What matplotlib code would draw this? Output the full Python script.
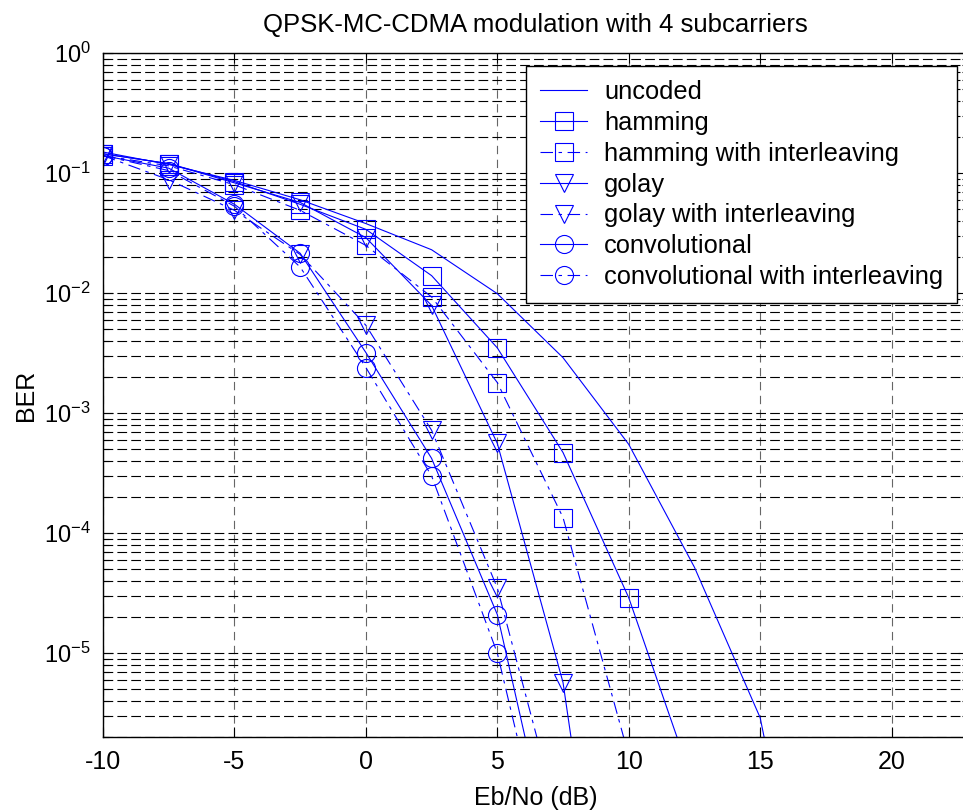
import numpy as np
import matplotlib.pyplot as plt
from matplotlib.ticker import LogLocator, NullFormatter

# Arial-like font, as in the MATLAB figure
plt.rcParams['font.family'] = ['Liberation Sans', 'DejaVu Sans']
plt.rcParams['lines.scale_dashes'] = False
plt.rcParams['axes.unicode_minus'] = False
plt.rcParams['mathtext.fontset'] = 'custom'
plt.rcParams['mathtext.rm'] = 'Liberation Sans'

# Eb/No points (dB)
ebno = [-10, -7.5, -5, -2.5, 0, 2.5, 5, 7.5, 10, 12.5, 15, 17.5]

# BER curves
uncoded = [0.15, 0.118, 0.087, 0.06, 0.038, 0.023, 0.0099, 2.9e-3, 5.5e-4, 5.2e-5, 2.9e-6, 6e-9]
hamming = [0.145, 0.12, 0.085, 0.055, 0.034, 0.014, 3.5e-3, 4.7e-4, 2.9e-5, 7.6e-7]
hamming_int = [0.14, 0.115, 0.08, 0.049, 0.025, 0.0093, 1.8e-3, 1.35e-4, 1.4e-6]
golay = [0.145, 0.12, 0.083, 0.057, 0.029, 0.0079, 5.6e-4, 5.7e-6, 1e-9]
golay_int = [0.14, 0.088, 0.049, 0.021, 0.0054, 7.2e-4, 3.5e-5, 3e-7]
conv = [0.14, 0.11, 0.055, 0.0215, 0.0032, 4.2e-4, 2.1e-5, 8e-8]
conv_int = [0.14, 0.105, 0.053, 0.0165, 0.0024, 3.0e-4, 1.0e-5, 5e-8]

labels = ['uncoded', 'hamming', 'hamming with interleaving', 'golay',
          'golay with interleaving', 'convolutional',
          'convolutional with interleaving']

blue = '#0000ff'
solid = '-'
dashdot = (0, (9, 4, 2.5, 4))

fig = plt.figure(figsize=(9.63, 8.10), dpi=100)
ax = fig.add_axes([0.107, 0.090, 0.898, 0.8444])

series = [
    (uncoded, solid, 'None'),
    (hamming, solid, 's'),
    (hamming_int, dashdot, 's'),
    (golay, solid, 'v'),
    (golay_int, dashdot, 'v'),
    (conv, solid, 'o'),
    (conv_int, dashdot, 'o'),
]
for (vals, ls, mk), lab in zip(series, labels):
    ax.semilogy(ebno[:len(vals)], vals, color=blue, lw=0.8, linestyle=ls,
                marker=mk, markersize=13, markerfacecolor='none',
                markeredgecolor=blue, markeredgewidth=0.8, label=lab)

ax.set_xlim(-10, 22.9)
ax.set_ylim(2e-6, 1)
ax.set_xticks([-10, -5, 0, 5, 10, 15, 20])
ax.yaxis.set_major_locator(LogLocator(base=10, numticks=10))
ax.yaxis.set_minor_locator(LogLocator(base=10, subs=np.arange(2, 10), numticks=20))
ax.yaxis.set_minor_formatter(NullFormatter())

ax.grid(True, which='major', axis='x', linestyle=(0, (6, 4)), color='#666666', lw=0.8)
ax.grid(True, which='both', axis='y', linestyle=(0, (7, 3)), color='black', lw=0.8)
ax.tick_params(which='both', direction='in', top=True, right=True, labelsize=18,
               width=0.8)
ax.tick_params(axis='y', labelsize=17)
ax.tick_params(which='major', length=7, pad=9)
ax.tick_params(which='minor', length=4)
for sp in ax.spines.values():
    sp.set_linewidth(1.0)

ax.set_xlabel('Eb/No (dB)', fontsize=18, labelpad=9)
ax.set_ylabel('BER', fontsize=18, labelpad=4)
ax.set_title('QPSK-MC-CDMA modulation with 4 subcarriers', fontsize=18.5, pad=15)

leg = ax.legend(loc='upper right', bbox_to_anchor=(957 / 963, 1 - 66 / 810),
                bbox_transform=fig.transFigure, fontsize=18.3, fancybox=False,
                edgecolor='black', framealpha=1, handlelength=1.85,
                handletextpad=0.65, labelspacing=0.27, borderpad=0.55,
                borderaxespad=0)
leg.get_frame().set_linewidth(1.0)

fig.savefig('out.png', dpi=100)
